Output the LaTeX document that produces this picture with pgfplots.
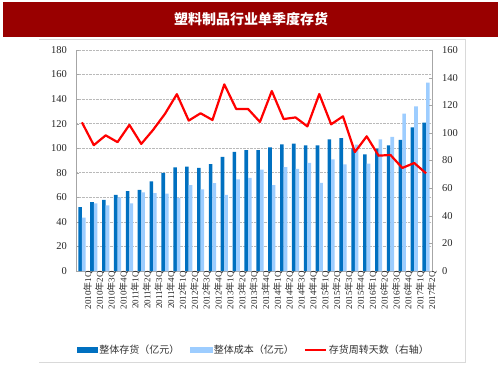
\documentclass[border=0pt]{standalone}
\usepackage{pgfplots}
\pgfplotsset{compat=1.18}
\usepackage{pgfplotstable}
\usepackage{fontspec}
\setmainfont{Liberation Serif}
\newfontfamily\cjk{Noto Sans CJK SC}
\definecolor{darkbar}{HTML}{0070C0}
\definecolor{lightbar}{HTML}{9DCDFF}
\definecolor{titlered}{HTML}{990000}
\definecolor{framegray}{HTML}{D9D9D9}
\definecolor{axgray}{HTML}{A6A6A6}
\newcommand{\q}[2]{#1{\cjk 年}#2Q}

\pgfplotstableread{
x inv cost days
0 52 43.5 107.6
1 56 55 91.1
2 58 53.5 98.2
3 62 60 93.3
4 65 55 105.8
5 66 64 92
6 73 63.5 102.2
7 80 63 113.8
8 84.5 59.5 128
9 85 70 108.9
10 84 66.5 114.2
11 87 71.5 109.3
12 93 62 135.1
13 97 74.7 117.3
14 98.5 75.8 117.3
15 98.5 82.5 107.9
16 100.7 70 130.3
17 103.2 84.7 110
18 103.7 83.1 111.2
19 102.4 88 104.7
20 102.4 71.7 128.1
21 107.2 91 106.2
22 108.3 86.9 112
23 100 103 86.1
24 95 87.4 97.5
25 99.6 107.2 83.5
26 102.4 109.2 84
27 106.7 128.2 74.6
28 117 134.1 78.2
29 120.8 153.4 70.7
}\data

\begin{document}
\begin{tikzpicture}
\useasboundingbox (0pt,0pt) rectangle (503pt,378pt);
\fill[titlered] (3pt,341pt) rectangle (498pt,376pt);
\node[text=white, font=\cjk\bfseries\fontsize{14}{14}\selectfont] at (251pt,358.5pt) {塑料制品行业单季度存货};
\draw[framegray, line width=0.8pt] (39pt,339pt) -- (465pt,339pt) -- (465pt,16pt) -- (39pt,16pt);

\begin{axis}[at={(76pt,107pt)}, anchor=south west, width=356pt, height=221pt, scale only axis,
  xmin=-0.5, xmax=29.5, ymin=0, ymax=180, ytick={0,20,...,180},
  axis y line*=left, axis x line*=bottom,
  axis line style={axgray, line width=0.6pt},
  ymajorgrids, major grid style={gray!55, densely dotted, line width=0.6pt},
  ytick style={axgray}, tick align=inside, major tick length=3pt,
  xtick={0,...,29}, xtick style={draw=none},
  xticklabels={\q{2010}{1},\q{2010}{2},\q{2010}{3},\q{2010}{4},
    \q{2011}{1},\q{2011}{2},\q{2011}{3},\q{2011}{4},
    \q{2012}{1},\q{2012}{2},\q{2012}{3},\q{2012}{4},
    \q{2013}{1},\q{2013}{2},\q{2013}{3},\q{2013}{4},
    \q{2014}{1},\q{2014}{2},\q{2014}{3},\q{2014}{4},
    \q{2015}{1},\q{2015}{2},\q{2015}{3},\q{2015}{4},
    \q{2016}{1},\q{2016}{2},\q{2016}{3},\q{2016}{4},
    \q{2017}{1},\q{2017}{2}},
  xticklabel style={rotate=90, anchor=east, inner sep=0pt, yshift=-6pt, font=\fontsize{9}{9}\selectfont, text=black!85},
  yticklabel style={inner sep=0pt, xshift=-9pt, font=\fontsize{10.5}{10.5}\selectfont, text=black!85},
  /pgf/number format/assume math mode=true,
  legend columns=3,
  legend style={at={(0.5,-0.357)}, anchor=center, draw=none, fill=none,
    font=\cjk\fontsize{10}{10}\selectfont, text=black!80,
    /tikz/every even column/.append style={column sep=8pt}},
]
\addplot[ybar, bar width=3.6pt, bar shift=-1.8pt, fill=darkbar, draw=none, forget plot] table[x=x,y=inv]{\data};
\addplot[ybar, bar width=3.6pt, bar shift=1.8pt, fill=lightbar, draw=none, forget plot] table[x=x,y=cost]{\data};
\addlegendimage{legend image code/.code={\fill[darkbar] (0pt,-2.5pt) rectangle (20pt,2.5pt);}}
\addlegendentry{整体存货（亿元）}
\addlegendimage{legend image code/.code={\fill[lightbar] (0pt,-2.5pt) rectangle (22pt,2.5pt);}}
\addlegendentry{整体成本（亿元）}
\addlegendimage{legend image code/.code={\draw[red, line width=2pt] (0pt,0pt) -- (21pt,0pt);}}
\addlegendentry{存货周转天数（右轴）}
\end{axis}

\begin{axis}[at={(76pt,107pt)}, anchor=south west, width=356pt, height=221pt, scale only axis,
  xmin=-0.5, xmax=29.5, ymin=0, ymax=160, ytick={0,20,...,160},
  axis y line*=right, axis x line=none, xtick=\empty,
  axis line style={axgray, line width=0.6pt},
  ytick style={axgray}, tick align=inside, major tick length=3pt,
  yticklabel style={inner sep=0pt, xshift=10pt, font=\fontsize{10.5}{10.5}\selectfont, text=black!85},
  /pgf/number format/assume math mode=true,
]
\addplot[red, line width=2.2pt, mark=none, line join=round] table[x=x,y=days]{\data};
\end{axis}
\end{tikzpicture}
\end{document}
